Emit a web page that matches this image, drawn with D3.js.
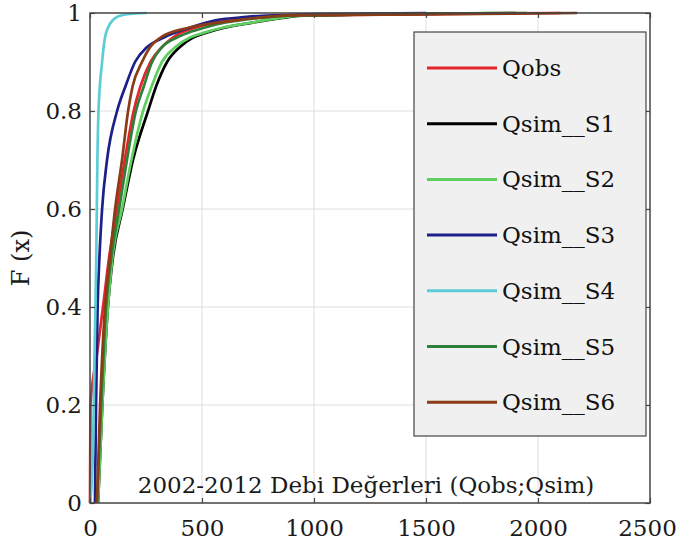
<!DOCTYPE html>
<html>
<head>
<meta charset="utf-8">
<script src="https://d3js.org/d3.v7.min.js"></script>
<style>
  body { margin: 0; background: #fff; }
  svg { display: block; font-family: "DejaVu Serif", serif; }
  .grid line { stroke: #dedede; stroke-width: 1; }
  .axis text { font-family: "DejaVu Serif", serif; font-size: 23px; fill: #1a1a1a; }
  .series { fill: none; stroke-width: 2.7; stroke-linejoin: round; }
</style>
</head>
<body>
<svg id="chart" width="678" height="542"></svg>
<script>
  // CDF values: [discharge, F(x)]
  const seriesNames = ["Qobs", "Qsim__S1", "Qsim__S2", "Qsim__S3", "Qsim__S4", "Qsim__S5", "Qsim__S6"]
  const seriesColors = ["#e3262c", "#000000", "#5fcf5f", "#1d1f8a", "#5ccdd6", "#2f7f3a", "#8a3b17"]

  const qobs = [[0,0],[2,0.2],[30,0.3],[58,0.4],[85,0.5],[120,0.6],[155,0.7],[195,0.8],[225,0.85],[270,0.9],[320,0.93],[370,0.95],[470,0.97],[560,0.98],[720,0.99],[900,0.995],[2100,1]]
  const s1 = [[36,0],[55,0.2],[80,0.4],[102,0.5],[146,0.6],[192,0.7],[259,0.8],[295,0.85],[344,0.9],[400,0.93],[460,0.95],[520,0.96],[600,0.97],[720,0.98],[860,0.99],[960,0.995],[1900,1]]
  const s2 = [[36,0],[55,0.2],[80,0.4],[100,0.5],[143,0.6],[185,0.7],[237,0.8],[275,0.85],[321,0.9],[380,0.93],[446,0.95],[510,0.96],[590,0.97],[714,0.98],[850,0.99],[950,0.995],[1800,1]]
  const s3 = [[22,0],[27,0.2],[34,0.4],[42,0.5],[54,0.6],[76,0.7],[121,0.8],[158,0.85],[201,0.9],[254,0.93],[330,0.95],[446,0.97],[560,0.985],[700,0.992],[1000,0.998],[1500,1]]
  const s4 = [[0,0],[13,0.1],[20,0.3],[28,0.5],[33,0.7],[38,0.8],[54,0.9],[67,0.95],[80,0.97],[103,0.986],[147,0.996],[254,1]]
  const s5 = [[31,0],[50,0.2],[72,0.4],[95,0.5],[130,0.6],[165,0.7],[205,0.8],[240,0.85],[277,0.9],[320,0.93],[388,0.95],[440,0.96],[510,0.97],[600,0.98],[760,0.99],[920,0.995],[1950,1]]
  const s6 = [[31,0],[45,0.2],[67,0.4],[89,0.5],[112,0.6],[143,0.7],[170,0.8],[190,0.85],[232,0.9],[268,0.93],[315,0.95],[440,0.97],[650,0.985],[900,0.995],[2175,1]]
  const seriesData = [qobs, s1, s2, s3, s4, s5, s6]

  const xTicks = [0, 500, 1000, 1500, 2000, 2500]
  const yTicks = [0, 0.2, 0.4, 0.6, 0.8, 1]
  const noteText = "2002-2012 Debi Değerleri (Qobs;Qsim)"

  const svg = d3.select("#chart")
  const margin = {top: 13, right: 28, bottom: 39, left: 90}
  const width = svg.attr("width") - margin.left - margin.right
  const height = svg.attr("height") - margin.top - margin.bottom

  const x = d3.scaleLinear().domain([0, 2500]).range([0, width])
  const y = d3.scaleLinear().domain([0, 1]).range([height, 0])

  const g = svg.append("g").attr("transform", "translate(" + margin.left + "," + margin.top + ")")

  // grid
  g.append("g").attr("class", "grid")
    .selectAll("line").data(xTicks.slice(1, -1)).join("line")
    .attr("x1", d => x(d)).attr("x2", d => x(d)).attr("y1", 0).attr("y2", height)
  g.append("g").attr("class", "grid")
    .selectAll("line").data(yTicks.slice(1, -1)).join("line")
    .attr("x1", 0).attr("x2", width).attr("y1", d => y(d)).attr("y2", d => y(d))

  // lines
  const line = d3.line().x(d => x(d[0])).y(d => y(d[1])).curve(d3.curveMonotoneX)
  g.selectAll("path.series").data(seriesData).join("path")
    .attr("class", "series")
    .attr("stroke", (d, i) => seriesColors[i])
    .attr("d", line)

  // axes, ticks inward like matlab
  const xAxis = g.append("g").attr("class", "axis")
    .attr("transform", "translate(0," + height + ")")
    .call(d3.axisBottom(x).tickValues(xTicks).tickSizeInner(-5).tickSizeOuter(0).tickPadding(17).tickFormat(d3.format("d")))
  xAxis.selectAll(".tick text").filter(d => d === 2500).attr("dx", "-3")
  g.append("g").attr("class", "axis")
    .call(d3.axisLeft(y).tickValues(yTicks).tickSizeInner(-5).tickSizeOuter(0).tickPadding(8).tickFormat(d => d))
  g.append("g").attr("class", "axis")
    .call(d3.axisTop(x).tickValues(xTicks).tickSizeInner(-5).tickSizeOuter(0).tickFormat(""))
  g.append("g").attr("class", "axis")
    .attr("transform", "translate(" + width + ",0)")
    .call(d3.axisRight(y).tickValues(yTicks).tickSizeInner(-5).tickSizeOuter(0).tickFormat(""))
  g.selectAll(".axis").attr("font-family", null).attr("font-size", null)
  g.selectAll(".axis path").remove()
  g.selectAll(".axis .tick line").attr("stroke", "#444").attr("stroke-width", 1.2)
  g.append("rect").attr("width", width).attr("height", height)
    .attr("fill", "none").attr("stroke", "#444").attr("stroke-width", 1.5)

  // note inside plot
  g.append("text")
    .attr("x", 276).attr("y", height - 10)
    .attr("text-anchor", "middle")
    .attr("font-size", 23).attr("fill", "#1a1a1a")
    .text(noteText)

  // y label
  svg.append("text")
    .attr("transform", "translate(29," + (margin.top + y(0.5)) + ") rotate(-90)")
    .attr("text-anchor", "middle")
    .attr("font-size", 24).attr("fill", "#1a1a1a")
    .text("F (x)")

  // legend
  const legend = svg.append("g").attr("transform", "translate(414,32)")
  legend.append("rect").attr("width", 232).attr("height", 404)
    .attr("fill", "#f0f0f0").attr("stroke", "#444").attr("stroke-width", 1.2)
  const rows = legend.selectAll("g.row").data(seriesNames).join("g")
    .attr("transform", (d, i) => "translate(0," + (36 + i * 55.7) + ")")
  rows.append("line").attr("x1", 13).attr("x2", 83)
    .attr("stroke", (d, i) => seriesColors[i]).attr("stroke-width", 3)
  rows.append("text").attr("x", 88).attr("dy", "0.35em")
    .attr("font-size", 23).attr("fill", "#111")
    .text(d => d)
</script>
</body>
</html>
